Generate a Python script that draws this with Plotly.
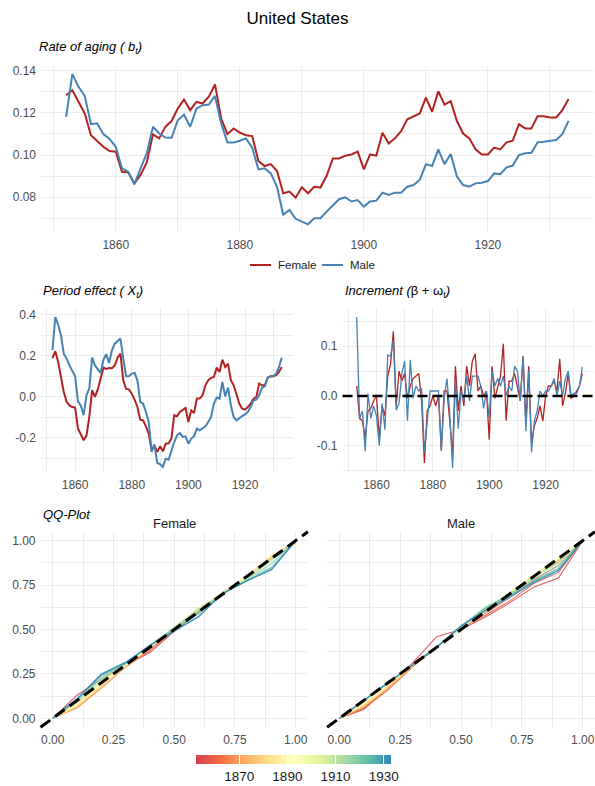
import plotly.graph_objects as go
from plotly.colors import sample_colorscale

# ---------------- data ----------------
YEARS = list(range(1852, 1934))
INC_YEARS = list(range(1853, 1934))

BT_FEMALE = [0.1283, 0.1307, 0.1252, 0.1197, 0.1094, 0.1066, 0.1039, 0.1019, 0.1016, 0.0921,
             0.0918, 0.0866, 0.0906, 0.0965, 0.1098, 0.1079, 0.1134, 0.1161, 0.1220, 0.1263,
             0.1213, 0.1252, 0.1244, 0.1276, 0.1334, 0.1173, 0.1099, 0.1126, 0.1106, 0.1094,
             0.1090, 0.0972, 0.0948, 0.0957, 0.0924, 0.0819, 0.0827, 0.0798, 0.0847, 0.0819,
             0.0850, 0.0846, 0.0902, 0.0984, 0.0984, 0.0997, 0.1003, 0.1016, 0.0932, 0.1003,
             0.0997, 0.1106, 0.1055, 0.1079, 0.1113, 0.1169, 0.1184, 0.1197, 0.1272, 0.1205,
             0.1302, 0.1239, 0.1255, 0.1161, 0.1102, 0.1079, 0.1027, 0.1003, 0.1003, 0.1035,
             0.1027, 0.1060, 0.1068, 0.1146, 0.1126, 0.1126, 0.1184, 0.1184, 0.1178, 0.1178,
             0.1213, 0.1265]
BT_MALE = [0.1181, 0.1383, 0.1323, 0.1280, 0.1146, 0.1150, 0.1099, 0.1076, 0.1039, 0.0937,
           0.0921, 0.0861, 0.0937, 0.1008, 0.1134, 0.1102, 0.1083, 0.1082, 0.1165, 0.1192,
           0.1134, 0.1220, 0.1236, 0.1239, 0.1280, 0.1150, 0.1060, 0.1060, 0.1068, 0.1079,
           0.1035, 0.0932, 0.0937, 0.0913, 0.0850, 0.0717, 0.0740, 0.0698, 0.0685, 0.0672,
           0.0701, 0.0701, 0.0732, 0.0761, 0.0791, 0.0800, 0.0780, 0.0787, 0.0756, 0.0780,
           0.0784, 0.0822, 0.0811, 0.0822, 0.0822, 0.0850, 0.0858, 0.0882, 0.0957, 0.0948,
           0.1027, 0.0957, 0.1005, 0.0898, 0.0858, 0.0850, 0.0866, 0.0869, 0.0877, 0.0913,
           0.0909, 0.0942, 0.0950, 0.1000, 0.1008, 0.1011, 0.1060, 0.1063, 0.1068, 0.1071,
           0.1099, 0.1162]

XT_FEMALE = [0.190, 0.223, 0.171, 0.098, 0.024, -0.024, -0.041, -0.049, -0.052, -0.154,
             -0.179, -0.211, -0.190, -0.098, 0.033, 0.000, 0.037, 0.089, 0.143, 0.137,
             0.141, 0.140, 0.154, 0.192, 0.211, 0.081, 0.039, 0.037, 0.016, -0.013,
             -0.049, -0.111, -0.114, -0.143, -0.179, -0.260, -0.236, -0.268, -0.241, -0.265,
             -0.228, -0.226, -0.203, -0.089, -0.094, -0.073, -0.062, -0.054, -0.122, -0.065,
             -0.078, -0.008, -0.008, 0.008, 0.057, 0.081, 0.093, 0.098, 0.143, 0.122,
             0.182, 0.146, 0.163, 0.081, 0.057, 0.016, -0.033, -0.057, -0.062, -0.049,
             -0.033, -0.008, 0.000, 0.065, 0.057, 0.057, 0.094, 0.101, 0.101, 0.106,
             0.122, 0.146]
XT_MALE = [0.228, 0.390, 0.353, 0.301, 0.211, 0.187, 0.154, 0.130, 0.101, -0.021,
           -0.041, -0.089, 0.008, 0.041, 0.192, 0.154, 0.138, 0.117, 0.182, 0.208,
           0.166, 0.228, 0.260, 0.272, 0.285, 0.187, 0.101, 0.101, 0.114, 0.117,
           0.081, -0.024, -0.033, -0.073, -0.122, -0.268, -0.231, -0.322, -0.328, -0.341,
           -0.301, -0.306, -0.260, -0.220, -0.187, -0.176, -0.195, -0.192, -0.228, -0.203,
           -0.192, -0.154, -0.163, -0.154, -0.143, -0.122, -0.098, -0.033, -0.003, -0.008,
           0.073, 0.003, 0.046, -0.041, -0.098, -0.114, -0.101, -0.093, -0.085, -0.073,
           -0.049, -0.016, -0.013, 0.008, 0.046, 0.052, 0.094, 0.101, 0.101, 0.114,
           0.146, 0.192]

INC_FEMALE = [0.020, -0.045, -0.050, -0.085, -0.030, -0.025, -0.010, 0.000, -0.085, -0.020,
              -0.040, 0.040, 0.065, 0.130, -0.020, 0.050, 0.030, 0.045, -0.005, 0.020,
              0.035, 0.040, 0.045, -0.010, -0.135, -0.030, -0.020, 0.000, -0.020, 0.000,
              -0.110, 0.010, 0.010, -0.050, -0.120, 0.060, -0.030, 0.020, -0.020, 0.060,
              0.020, 0.070, 0.085, 0.010, 0.020, 0.000, 0.010, -0.088, 0.060, -0.005,
              0.015, 0.040, 0.105, -0.050, 0.030, 0.030, 0.045, 0.020, -0.010, 0.080,
              -0.055, 0.060, -0.095, -0.060, -0.045, -0.020, -0.050, 0.000, 0.020, 0.020,
              0.030, 0.010, 0.075, -0.020, 0.005, 0.045, -0.005, 0.000, 0.010, 0.020,
              0.045]
INC_MALE = [0.159, -0.045, -0.030, -0.111, 0.005, -0.045, -0.020, -0.040, -0.100, -0.015,
            -0.068, 0.082, 0.080, 0.112, -0.028, -0.015, 0.045, 0.070, -0.050, 0.073,
            -0.005, 0.020, 0.010, 0.015, -0.113, -0.050, 0.010, 0.010, 0.010, 0.010,
            -0.110, -0.005, 0.035, -0.035, -0.145, 0.033, -0.066, 0.010, -0.010, 0.040,
            -0.010, 0.040, 0.040, 0.040, 0.020, -0.025, 0.010, -0.045, 0.050, 0.020,
            0.035, 0.020, 0.040, 0.000, 0.020, 0.010, 0.060, 0.050, -0.010, 0.080,
            -0.071, 0.050, -0.113, -0.050, -0.030, 0.010, 0.000, 0.010, 0.010, 0.020,
            0.035, 0.000, 0.030, 0.000, 0.035, 0.050, 0.000, 0.005, 0.005, 0.020,
            0.058]

QQ_P = [0.0, 0.1, 0.2, 0.3, 0.4, 0.5, 0.6, 0.7, 0.8, 0.9, 1.0]
QQ_YEARS = [1852, 1858, 1864, 1870, 1876, 1882, 1888, 1894, 1900, 1906, 1912, 1918, 1924, 1930, 1933]
QQ_FEMALE = [
    [0, 0.130, 0.220, 0.300, 0.370, 0.490, 0.600, 0.700, 0.800, 0.900, 1.0],
    [0, 0.090, 0.180, 0.290, 0.380, 0.500, 0.600, 0.700, 0.800, 0.900, 1.0],
    [0, 0.060, 0.170, 0.290, 0.390, 0.500, 0.600, 0.700, 0.800, 0.910, 0.99],
    [0, 0.060, 0.170, 0.290, 0.390, 0.500, 0.610, 0.710, 0.800, 0.910, 0.985],
    [0, 0.065, 0.175, 0.290, 0.395, 0.500, 0.610, 0.710, 0.800, 0.915, 0.98],
    [0, 0.070, 0.180, 0.295, 0.400, 0.500, 0.610, 0.710, 0.800, 0.920, 0.98],
    [0, 0.075, 0.185, 0.300, 0.400, 0.505, 0.610, 0.705, 0.800, 0.920, 0.98],
    [0, 0.080, 0.190, 0.300, 0.400, 0.505, 0.615, 0.705, 0.800, 0.915, 0.98],
    [0, 0.085, 0.200, 0.300, 0.405, 0.510, 0.620, 0.705, 0.795, 0.910, 0.985],
    [0, 0.090, 0.210, 0.305, 0.410, 0.510, 0.620, 0.700, 0.790, 0.900, 0.99],
    [0, 0.100, 0.220, 0.310, 0.410, 0.510, 0.615, 0.700, 0.785, 0.890, 0.995],
    [0, 0.100, 0.230, 0.310, 0.410, 0.505, 0.600, 0.700, 0.780, 0.870, 1.0],
    [0, 0.105, 0.240, 0.310, 0.410, 0.500, 0.590, 0.700, 0.775, 0.850, 1.0],
    [0, 0.110, 0.245, 0.315, 0.410, 0.495, 0.575, 0.705, 0.775, 0.840, 1.0],
    [0, 0.110, 0.250, 0.315, 0.410, 0.490, 0.570, 0.705, 0.775, 0.835, 1.0],
]
QQ_MALE = [
    [0, 0.050, 0.170, 0.310, 0.460, 0.500, 0.570, 0.650, 0.740, 0.790, 1.0],
    [0, 0.055, 0.160, 0.290, 0.400, 0.510, 0.580, 0.660, 0.760, 0.820, 1.0],
    [0, 0.060, 0.160, 0.290, 0.400, 0.510, 0.590, 0.680, 0.780, 0.860, 1.0],
    [0, 0.065, 0.165, 0.290, 0.400, 0.510, 0.600, 0.700, 0.800, 0.880, 1.0],
    [0, 0.070, 0.170, 0.295, 0.400, 0.510, 0.600, 0.700, 0.800, 0.890, 1.0],
    [0, 0.075, 0.180, 0.295, 0.400, 0.510, 0.600, 0.705, 0.805, 0.895, 1.0],
    [0, 0.080, 0.185, 0.300, 0.400, 0.510, 0.605, 0.710, 0.810, 0.900, 1.0],
    [0, 0.085, 0.190, 0.300, 0.400, 0.510, 0.610, 0.710, 0.810, 0.900, 1.0],
    [0, 0.090, 0.195, 0.300, 0.400, 0.510, 0.610, 0.710, 0.805, 0.895, 1.0],
    [0, 0.095, 0.200, 0.300, 0.400, 0.510, 0.615, 0.705, 0.800, 0.890, 1.0],
    [0, 0.100, 0.200, 0.300, 0.400, 0.515, 0.620, 0.700, 0.795, 0.875, 1.0],
    [0, 0.100, 0.200, 0.300, 0.400, 0.515, 0.625, 0.695, 0.785, 0.860, 1.0],
    [0, 0.100, 0.200, 0.300, 0.400, 0.520, 0.620, 0.690, 0.775, 0.845, 1.0],
    [0, 0.100, 0.200, 0.300, 0.400, 0.520, 0.610, 0.685, 0.770, 0.835, 1.0],
    [0, 0.100, 0.200, 0.300, 0.400, 0.520, 0.605, 0.680, 0.765, 0.830, 1.0],
]

YEAR_TICKS = [1860, 1880, 1900, 1920]
YEAR_MINOR = [1850, 1870, 1890, 1910, 1930]
BAR_TICKS = [1870, 1890, 1910, 1930]
SERIES = ["Female", "Male"]

# ---------------- style ----------------
RED = "#B22222"
BLUE = "#4682B4"
COLORS = [RED, BLUE]
FONT = "Liberation Sans, Arial, Helvetica, sans-serif"
GRID = "#EBEBEB"
SPECTRAL = ["#D53E4F", "#F46D43", "#FDAE61", "#FEE08B", "#FFFFBF",
            "#E6F598", "#ABDDA4", "#66C2A5", "#3288BD"]
CSCALE = [[i / (len(SPECTRAL) - 1), c] for i, c in enumerate(SPECTRAL)]
YMIN, YMAX = YEARS[0], YEARS[-1]

W, H = 595, 786


def fx(px):
    return px / W


def fy(py):
    return 1 - py / H


fig = go.Figure()

# top panel
fig.add_trace(go.Scatter(x=YEARS, y=BT_FEMALE, mode="lines", showlegend=False,
                         line=dict(color=RED, width=2), xaxis="x", yaxis="y"))
fig.add_trace(go.Scatter(x=YEARS, y=BT_MALE, mode="lines", showlegend=False,
                         line=dict(color=BLUE, width=2), xaxis="x", yaxis="y"))
# period effect
fig.add_trace(go.Scatter(x=YEARS, y=XT_FEMALE, mode="lines", showlegend=False,
                         line=dict(color=RED, width=2), xaxis="x2", yaxis="y2"))
fig.add_trace(go.Scatter(x=YEARS, y=XT_MALE, mode="lines", showlegend=False,
                         line=dict(color=BLUE, width=2), xaxis="x2", yaxis="y2"))
# increments
fig.add_trace(go.Scatter(x=INC_YEARS, y=INC_FEMALE, mode="lines", showlegend=False,
                         line=dict(color=RED, width=1.3), xaxis="x3", yaxis="y3"))
fig.add_trace(go.Scatter(x=INC_YEARS, y=INC_MALE, mode="lines", showlegend=False,
                         line=dict(color=BLUE, width=1.3), xaxis="x3", yaxis="y3"))

# QQ lines
for data, xa, ya in ((QQ_FEMALE, "x4", "y4"), (QQ_MALE, "x5", "y5")):
    for yr, q in zip(QQ_YEARS, data):
        col = sample_colorscale(CSCALE, [(yr - YMIN) / (YMAX - YMIN)])[0]
        fig.add_trace(go.Scatter(x=QQ_P, y=q, mode="lines", showlegend=False,
                                 line=dict(color=col, width=1.1), opacity=0.85,
                                 xaxis=xa, yaxis=ya, hoverinfo="skip"))

# colorbar carrier
fig.add_trace(go.Scatter(
    x=[None, None], y=[None, None], mode="markers", showlegend=False,
    xaxis="x5", yaxis="y5", hoverinfo="skip",
    marker=dict(color=[YMIN, YMAX], colorscale=CSCALE, cmin=YMIN, cmax=YMAX,
                showscale=True,
                colorbar=dict(orientation="h", thickness=8.5, thicknessmode="pixels",
                              len=195, lenmode="pixels", x=fx(293.4), xanchor="center",
                              y=fy(755), yanchor="top", xpad=0, ypad=0,
                              outlinewidth=0, tickvals=BAR_TICKS, ticks="inside",
                              ticklen=8.5, tickcolor="white", tickwidth=1,
                              tickfont=dict(size=13.5, color="#1A1A1A", family=FONT)))))


def axis_style(tickvals, ticktext, minor, rng, domain, anchor, labels=True):
    return dict(domain=domain, range=rng, anchor=anchor, tickvals=tickvals,
                ticktext=ticktext, showticklabels=labels, showgrid=True,
                gridcolor=GRID, gridwidth=1.1,
                zeroline=False, showline=False, ticks="", ticklabelstandoff=4,
                tickfont=dict(size=12, color="#4D4D4D", family=FONT),
                minor=dict(tickvals=minor, showgrid=True, gridcolor=GRID, gridwidth=0.6),
                fixedrange=True)


yr_txt = [str(v) for v in YEAR_TICKS]
qq_t = [0, 0.25, 0.5, 0.75, 1.0]
qq_txt = ["0.00", "0.25", "0.50", "0.75", "1.00"]
qq_minor = [0.125, 0.375, 0.625, 0.875]

fig.update_layout(
    width=W, height=H, margin=dict(l=0, r=0, t=0, b=0, autoexpand=False),
    paper_bgcolor="white", plot_bgcolor="white",
    font=dict(family=FONT, color="#1A1A1A"),
    title=dict(text="United States", x=0.5, xanchor="center", y=fy(18.5), yanchor="middle",
               font=dict(size=17, color="black", family=FONT)),
    showlegend=False,
    xaxis=axis_style(YEAR_TICKS, yr_txt, YEAR_MINOR, [1847.95, 1937.05], [fx(41), fx(593.7)], "y"),
    yaxis=axis_style([0.08, 0.10, 0.12, 0.14], ["0.08", "0.10", "0.12", "0.14"],
                     [0.07, 0.09, 0.11, 0.13], [0.0637, 0.1417], [fy(231.7), fy(67)], "x"),
    xaxis2=axis_style(YEAR_TICKS, yr_txt, YEAR_MINOR, [1847.95, 1937.05], [fx(41), fx(293.3)], "y2"),
    yaxis2=axis_style([-0.2, 0.0, 0.2, 0.4], ["-0.2", "0.0", "0.2", "0.4"],
                      [-0.3, -0.1, 0.1, 0.3], [-0.366, 0.434], [fy(472), fy(308)], "x2"),
    xaxis3=axis_style(YEAR_TICKS, yr_txt, YEAR_MINOR, [1847.95, 1937.05], [fx(342.5), fx(593.7)], "y3"),
    yaxis3=axis_style([-0.1, 0.0, 0.1], ["-0.1", "0.0", "0.1"],
                      [-0.15, -0.05, 0.05, 0.15], [-0.153, 0.177], [fy(472), fy(308)], "x3"),
    xaxis4=axis_style(qq_t, qq_txt, qq_minor, [-0.05, 1.05], [fx(40.5), fx(307.9)], "y4"),
    yaxis4=axis_style(qq_t, qq_txt, qq_minor, [-0.05, 1.05], [fy(727.2), fy(531.8)], "x4"),
    xaxis5=axis_style(qq_t, qq_txt, qq_minor, [-0.05, 1.05], [fx(327.1), fx(594.9)], "y5"),
    yaxis5=axis_style(qq_t, qq_txt, qq_minor, [-0.05, 1.05], [fy(727.2), fy(531.8)], "x5",
                      labels=False),
)

# reference lines
fig.add_shape(type="line", xref="x3 domain", x0=0, x1=1, yref="y3", y0=0, y1=0,
              line=dict(color="black", width=2.6, dash="10px,5px"), layer="above")
for xa, ya in (("x4", "y4"), ("x5", "y5")):
    fig.add_shape(type="line", xref=f"{xa} domain", x0=0, x1=1, yref=f"{ya} domain", y0=0, y1=1,
                  line=dict(color="black", width=3, dash="12px,6px"), layer="above")


def ann(text, x, y, size, xanchor="left", color="black"):
    fig.add_annotation(text=text, x=fx(x), y=fy(y), xref="paper", yref="paper",
                       xanchor=xanchor, yanchor="middle", showarrow=False,
                       font=dict(size=size, color=color, family=FONT))


# legend (keys + labels) for the top panel
LEG_KEYS = [(250, 271, 276), (322, 343, 348)]
for name, col, (k0, k1, tx) in zip(SERIES, COLORS, LEG_KEYS):
    fig.add_shape(type="line", xref="paper", yref="paper", x0=fx(k0), x1=fx(k1),
                  y0=fy(265), y1=fy(265), line=dict(color=col, width=2))
    ann(name, tx, 265, 11.5, color="#1A1A1A")

# titles
ann("<i>Rate of aging ( b<sub>t</sub>)</i>", 37, 47, 13)
ann("<i>Period effect ( X<sub>t</sub>)</i>", 41, 291, 13)
ann("<i>Increment (</i>β + ω<sub>t</sub><i>)</i>", 343, 291, 13)
ann("<i>QQ-Plot</i>", 41, 514, 13)
ann("Female", 174.2, 523.5, 13, xanchor="center", color="#1A1A1A")
ann("Male", 461, 523.5, 13, xanchor="center", color="#1A1A1A")

fig.write_html("out.html")
